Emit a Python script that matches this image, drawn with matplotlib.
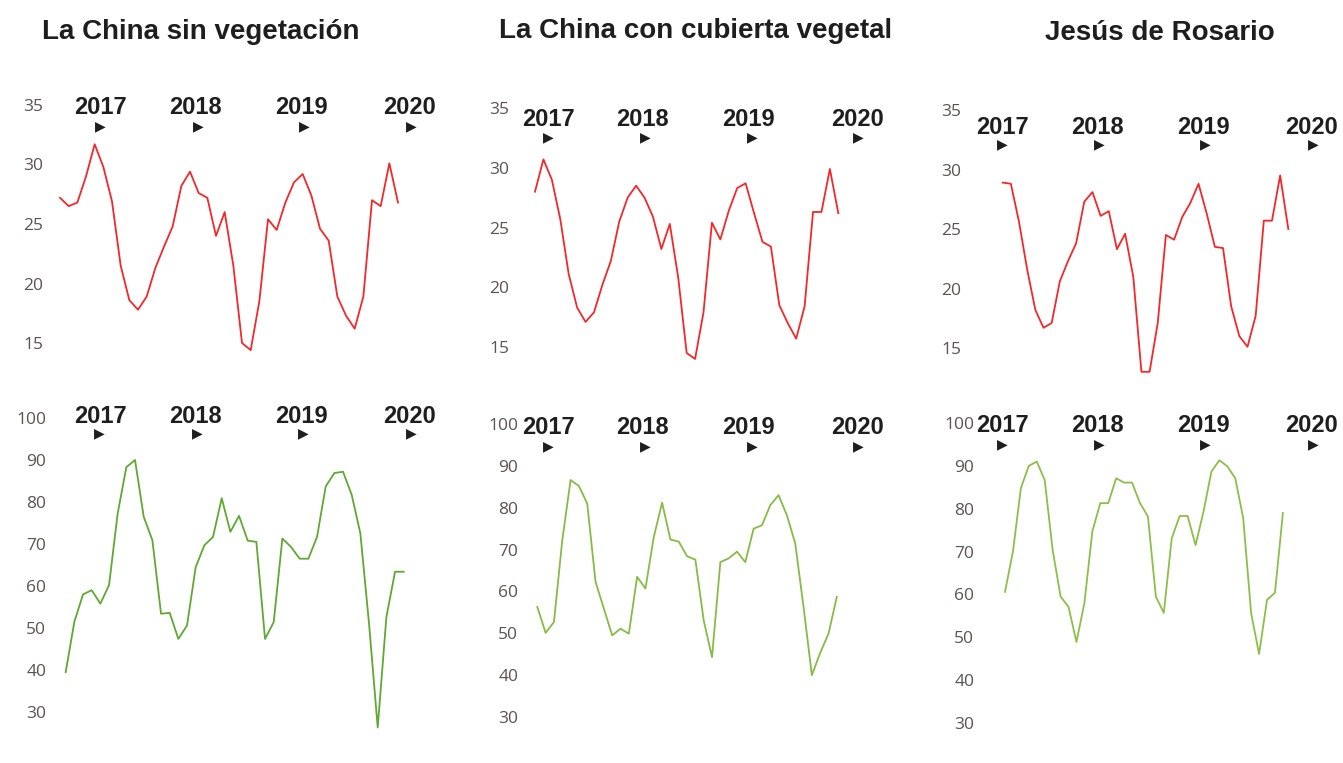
import matplotlib
matplotlib.use("Agg")
import matplotlib.pyplot as plt

# monthly temperature (°C) and relative humidity (%) for the three sites
years = ["2017", "2018", "2019", "2020"]
titles = ["La China sin vegetación", "La China con cubierta vegetal", "Jesús de Rosario"]

temp_ticks = [15, 20, 25, 30, 35]
hum_ticks = [30, 40, 50, 60, 70, 80, 90, 100]

china_bare_temp = [27.2, 26.5, 26.8, 29.0, 31.7, 29.8, 26.9, 21.5, 18.6, 17.8,
                   18.9, 21.3, 23.1, 24.8, 28.2, 29.4, 27.6, 27.2, 24.0, 26.0,
                   21.5, 15.0, 14.4, 18.5, 25.4, 24.5, 26.8, 28.5, 29.2, 27.4,
                   24.6, 23.6, 18.9, 17.3, 16.2, 18.9, 27.0, 26.5, 30.1, 26.8]
china_bare_hum = [39.5, 51.5, 58.0, 59.0, 55.8, 60.2, 77.3, 88.3, 90.0, 76.5,
                  70.9, 53.4, 53.6, 47.4, 50.6, 64.5, 69.7, 71.7, 80.9, 72.9,
                  76.7, 70.8, 70.5, 47.4, 51.4, 71.3, 69.3, 66.5, 66.5, 71.7,
                  83.7, 86.9, 87.2, 81.7, 72.5, 51.0, 26.3, 52.6, 63.4, 63.4]

china_cover_temp = [28.0, 30.7, 29.0, 25.7, 21.1, 18.3, 17.1, 17.9, 20.2, 22.2,
                    25.5, 27.5, 28.5, 27.5, 25.9, 23.2, 25.3, 20.8, 14.5, 14.0,
                    17.9, 25.4, 24.0, 26.4, 28.3, 28.7, 26.2, 23.8, 23.4, 18.5,
                    17.0, 15.7, 18.4, 26.3, 26.3, 29.9, 26.2]
china_cover_hum = [56.3, 50.1, 52.7, 72.2, 86.6, 85.2, 81.0, 62.3, 55.9, 49.5,
                   51.1, 49.9, 63.5, 60.7, 73.0, 81.2, 72.4, 71.9, 68.4, 67.6,
                   53.1, 44.3, 67.0, 67.9, 69.5, 67.0, 75.0, 75.8, 80.6, 83.0,
                   78.2, 71.5, 56.3, 40.0, 45.3, 49.9, 58.7]

rosario_temp = [28.9, 28.8, 25.6, 21.6, 18.2, 16.7, 17.1, 20.6, 22.3, 23.8,
                27.3, 28.1, 26.1, 26.5, 23.3, 24.6, 21.0, 13.0, 13.0, 17.1,
                24.5, 24.1, 26.0, 27.2, 28.8, 26.3, 23.5, 23.4, 18.5, 16.0,
                15.1, 17.7, 25.7, 25.7, 29.5, 25.0]
rosario_hum = [60.6, 70.0, 84.8, 90.0, 91.0, 86.7, 70.4, 59.5, 57.1, 48.9,
               58.0, 74.7, 81.3, 81.3, 87.1, 86.1, 86.1, 81.3, 78.2, 59.5,
               55.7, 73.1, 78.3, 78.3, 71.5, 79.3, 88.7, 91.3, 89.9, 87.1,
               77.8, 55.6, 46.1, 58.7, 60.4, 79.0]

W, H = 1343, 763
fig = plt.figure(figsize=(W / 100, H / 100), dpi=100)
fig.patch.set_facecolor("white")

RED = "#f2282a"
TICK_COLOR = "#5c5252"


def px(x, y):
    return x / W, 1 - y / H


def panel(series, color, box, x0, dx, yref, ticks):
    left, right, top, bottom = box
    ax = fig.add_axes([left / W, 1 - bottom / H, (right - left) / W, (bottom - top) / H])
    ax.patch.set_alpha(0)
    (v1, p1), (v2, p2) = yref
    k = (p2 - p1) / (v2 - v1)
    ax.set_xlim((left - x0) / dx, (right - x0) / dx)
    ax.set_ylim(v1 + (bottom - p1) / k, v1 + (top - p1) / k)
    ax.plot(range(len(series)), series, color=color, lw=1.3, clip_on=False)
    ax.set_xticks([])
    ax.set_yticks(ticks)
    ax.set_yticklabels([str(t) for t in ticks], fontfamily="Open Sans")
    ax.tick_params(axis="y", length=0, pad=2, labelsize=12.5, labelcolor=TICK_COLOR)
    for s in ax.spines.values():
        s.set_visible(False)
    return ax


def year_marks(label_x, label_y, tri_x, tri_y):
    for yr, lx, tx in zip(years, label_x, tri_x):
        fig.text(*px(lx, label_y), yr, ha="center", va="center", fontsize=17,
                 fontweight="bold", family="Liberation Sans", color="#1e1e1e")
        fig.text(*px(tx, tri_y), "\u25b6", ha="center", va="center", fontsize=10,
                 family="DejaVu Sans", color="#1e1e1e")


# La China sin vegetación
panel(china_bare_temp, RED, (46, 445, 90, 360), 60, 8.667, ((35, 105), (15, 343)), temp_ticks)
panel(china_bare_hum, "#5fa834", (49, 445, 405, 745), 65.7, 8.667, ((100, 418), (30, 712)), hum_ticks)
year_marks([100, 195, 301, 410], 108, [100, 198, 304, 411], 126)
year_marks([100, 195, 301, 410], 416, [99, 197, 303, 411], 433)

# La China con cubierta vegetal
panel(china_cover_temp, RED, (512, 900, 95, 365), 535, 8.425, ((35, 108), (15, 347)), temp_ticks)
panel(china_cover_hum, "#86bb45", (521, 900, 410, 750), 537.3, 8.32, ((100, 424), (30, 717)), hum_ticks)
year_marks([548, 642, 748, 857], 119, [548, 645, 752, 858], 137)
year_marks([548, 642, 748, 857], 428, [548, 645, 752, 858], 446)

# Jesús de Rosario
panel(rosario_temp, RED, (964, 1343, 95, 365), 1002.7, 8.16, ((35, 110), (15, 348)), temp_ticks)
panel(rosario_hum, "#8cbf48", (977, 1343, 410, 750), 1005, 7.94, ((100, 423), (30, 723)), hum_ticks)
year_marks([1002, 1097, 1203, 1312], 127, [1002, 1099, 1205, 1313], 144)
year_marks([1002, 1097, 1203, 1312], 426, [1002, 1099, 1205, 1313], 444)

for t, cx, by in zip(titles, [201, 696, 1160], [39, 38, 40]):
    fig.text(*px(cx, by), t, ha="center", va="baseline", fontsize=20,
             fontweight="bold", family="Liberation Sans", color="#1e1e1e")

fig.savefig("out.png", dpi=100, facecolor="white")
